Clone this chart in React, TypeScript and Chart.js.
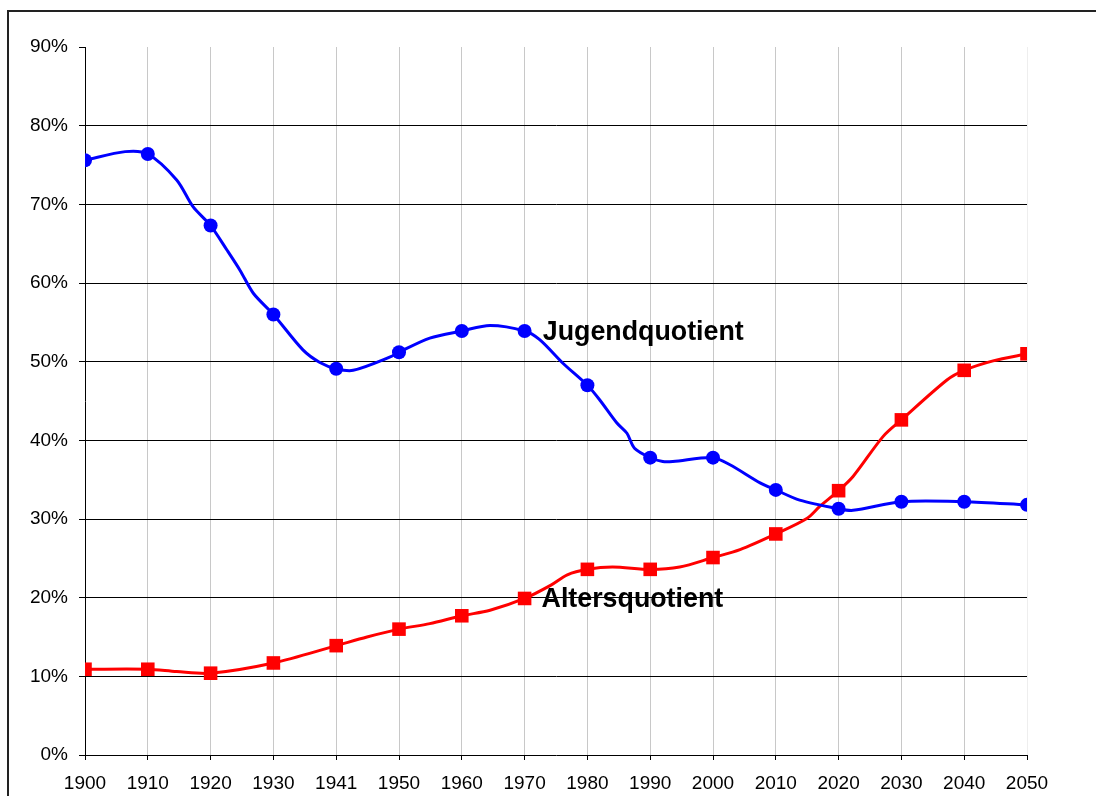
import React, { useEffect, useRef } from "react";
import { Chart, registerables } from "chart.js";

Chart.register(...registerables);

// Category labels (evenly spaced positions 0..15)
const yearLabels = ["1900", "1910", "1920", "1930", "1941", "1950", "1960", "1970", "1980", "1990", "2000", "2010", "2020", "2030", "2040", "2050"];

// Jugendquotient: position (category index, fractional for in-between readings) and value in %
const jugendPos = [0, 0.64, 1, 1.46, 1.72, 2, 2.26, 2.47, 2.68, 3, 3.47, 3.74, 4, 4.27, 4.86, 5, 5.49, 6, 6.45, 7, 7.24, 7.61, 8, 8.2, 8.47, 8.63, 8.75, 9, 9.2, 9.36, 10, 10.27, 10.75, 11, 11.38, 12, 12.23, 13, 14, 15];
const jugendVal = [75.6, 76.7, 76.4, 73.1, 69.7, 67.3, 64.2, 61.6, 58.7, 56.0, 51.5, 49.9, 49.1, 48.9, 50.6, 51.2, 53.0, 53.9, 54.6, 53.9, 52.8, 49.8, 47.0, 45.1, 42.2, 40.9, 39.0, 37.8, 37.3, 37.3, 37.8, 36.9, 34.6, 33.7, 32.4, 31.3, 31.1, 32.2, 32.2, 31.8];

// Altersquotient
const altersPos = [0, 1, 1.46, 2, 3, 4, 4.49, 5, 5.49, 6, 6.45, 7, 7.42, 7.68, 8, 8.4, 9, 9.47, 10, 10.43, 11, 11.5, 11.7, 12, 12.23, 12.71, 13, 13.73, 14, 14.46, 15];
const altersVal = [10.9, 10.9, 10.6, 10.4, 11.7, 13.9, 15.0, 16.0, 16.7, 17.7, 18.4, 19.9, 21.6, 22.9, 23.6, 23.9, 23.6, 23.9, 25.1, 26.1, 28.1, 30.1, 31.6, 33.6, 35.4, 40.5, 42.6, 47.7, 48.9, 50.1, 51.0];

// In-chart series labels (anchor in data units)
const seriesLabelText = ["Jugendquotient", "Altersquotient"];
const seriesLabelPos = [7.29, 7.27];
const seriesLabelVal = [52.75, 18.85];

const FONT = '"Liberation Sans", Arial, Helvetica, sans-serif';

const labelPlugin = {
  id: "seriesLabels",
  afterDatasetsDraw(chart: any) {
    const { ctx, scales } = chart;
    ctx.save();
    ctx.font = `bold 26.8px ${FONT}`;
    ctx.fillStyle = "#000";
    ctx.textAlign = "left";
    ctx.textBaseline = "alphabetic";
    seriesLabelText.forEach((t, i) => {
      ctx.fillText(t, scales.x.getPixelForValue(seriesLabelPos[i]), scales.y.getPixelForValue(seriesLabelVal[i]));
    });
    ctx.restore();
  },
};

export default function App() {
  const ref = useRef<HTMLCanvasElement>(null);

  useEffect(() => {
    if (!ref.current) return;
    const markerAt = (r: number) => (ctx: any) =>
      ctx.raw && Number.isInteger(ctx.raw.x) ? r : 0;
    const chart = new Chart(ref.current, {
      type: "line",
      data: {
        datasets: [
          {
            label: "Jugendquotient",
            data: jugendPos.map((x, i) => ({ x, y: jugendVal[i] })),
            borderColor: "#0000FF",
            backgroundColor: "#0000FF",
            borderWidth: 3,
            tension: 0.3,
            pointStyle: "circle",
            pointRadius: markerAt(7),
            pointBorderWidth: 0,
          },
          {
            label: "Altersquotient",
            data: altersPos.map((x, i) => ({ x, y: altersVal[i] })),
            borderColor: "#FF0000",
            backgroundColor: "#FF0000",
            borderWidth: 3,
            tension: 0.3,
            pointStyle: "rect",
            pointRadius: markerAt(9.6),
            pointBorderWidth: 0,
          },
        ],
      },
      options: {
        responsive: false,
        animation: false,
        layout: { padding: { top: 47, right: 69, bottom: 0, left: 0 } },
        plugins: { legend: { display: false }, tooltip: { enabled: false } },
        scales: {
          x: {
            type: "linear",
            min: 0,
            max: 15,
            afterFit: (s: any) => {
              s.height = 41;
            },
            border: { display: true, color: "#000", width: 1 },
            grid: {
              drawTicks: true,
              tickLength: 5,
              tickColor: "#000",
              color: (c: any) =>
                c.tick && c.tick.value === 0 ? "rgba(0,0,0,0)" : c.tick && c.tick.value === 15 ? "#eeeeee" : "#c8c8c8",
              lineWidth: 1,
            },
            ticks: {
              stepSize: 1,
              autoSkip: false,
              maxRotation: 0,
              padding: 12,
              color: "#000",
              font: { family: FONT, size: 19 },
              callback: (v: any) => yearLabels[v] ?? "",
            },
          },
          y: {
            min: 0,
            max: 90,
            afterFit: (s: any) => {
              s.width = 85;
            },
            border: { display: true, color: "#000", width: 1 },
            grid: {
              drawTicks: true,
              tickLength: 6,
              tickColor: "#000",
              color: (c: any) => (c.tick && (c.tick.value === 90 || c.tick.value === 0) ? "rgba(0,0,0,0)" : "#000"),
              lineWidth: 1,
            },
            ticks: {
              stepSize: 10,
              padding: 11,
              color: "#000",
              font: { family: FONT, size: 19 },
              callback: (v: any) => `${v}%`,
            },
          },
        },
      },
      plugins: [labelPlugin],
    });
    return () => chart.destroy();
  }, []);

  return (
    <div style={{ position: "relative", width: 1000, height: 700 }}>
      <div
        style={{
          position: "fixed",
          left: 7,
          top: 10,
          width: 1089,
          height: 786,
          boxSizing: "border-box",
          borderTop: "2px solid #222",
          borderLeft: "2px solid #222",
        }}
      />
      <canvas
        ref={ref}
        width={1096}
        height={796}
        style={{ position: "fixed", left: 0, top: 0, width: 1096, height: 796 }}
      />
    </div>
  );
}
